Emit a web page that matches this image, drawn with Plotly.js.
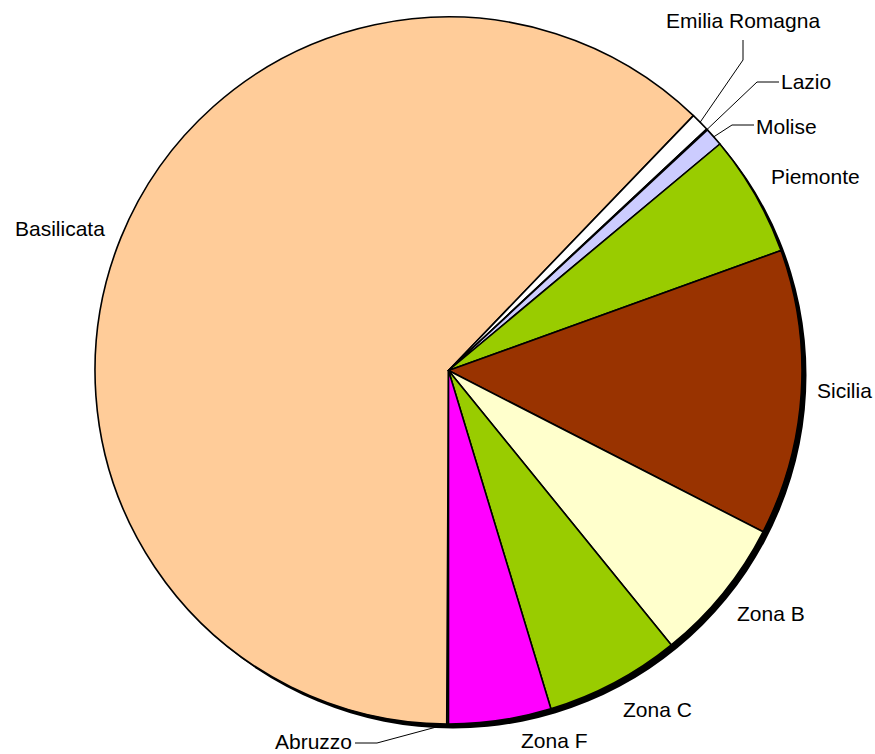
<!DOCTYPE html>
<html>
<head>
<meta charset="utf-8">
<script src="https://cdn.plot.ly/plotly-3.0.1.min.js"></script>
<style>html,body{margin:0;padding:0;background:#fff;}#chart{width:875px;height:754px;}</style>
</head>
<body>
<div id="chart"></div>
<script>
// ---- data ----
const regions = ["Abruzzo","Basilicata","Emilia Romagna","Lazio","Molise","Piemonte","Sicilia","Zona B","Zona C","Zona F"];
const shares = [0.08, 62.14, 0.85, 0.05, 0.85, 5.56, 13.06, 6.61, 6.18, 4.68];
const sliceColors = ["#9999FF","#FFCC99","#FFFFFF","#FFFFFF","#CCCCFF","#99CC00","#993300","#FFFFCC","#99CC00","#FF00FF"];

// ---- layout / style ----
const W = 875, H = 754, L = 95, T = 17, S = 707;
const startAngle = 180;           // first slice starts at 6 o'clock, clockwise
const labelRadius = 1.047;        // label anchor distance, in pie radii
const fontSpec = { family: "Liberation Sans, Arial, sans-serif", size: 21, color: "#000000" };
const shadowOffset = 4.5;

// labels dragged away from their slice, with leader lines (pixel positions of elbow and label anchor)
const leaderLabels = {
  "Emilia Romagna": { elbow: [[743, 60], [743, 40]], at: [743, 33], xa: "center", ya: "bottom" },
  "Lazio":          { elbow: [[757, 82], [779, 82]], at: [780, 82], xa: "left",   ya: "middle" },
  "Molise":         { elbow: [[732, 125], [754, 125]], at: [755, 126], xa: "left", ya: "middle" },
  "Abruzzo":        { elbow: [[377, 743], [355, 743]], at: [353, 741], xa: "right", ya: "middle" }
};
// small manual nudges of labels (pixels)
const labelNudge = { "Zona F": [52, -9], "Piemonte": [0, 3], "Sicilia": [-2, -4], "Zona B": [0, -3], "Basilicata": [0, -3] };

const cx = L + S / 2, cy = T + S / 2, r = S / 2;
const px2x = (px) => (px - L) / S;
const py2y = (py) => 1 - (py - T) / S;

const total = shares.reduce((a, b) => a + b, 0);
let cum = 0;
const annotations = [];
const shapes = [{
  type: "circle", xref: "paper", yref: "paper", layer: "below",
  x0: px2x(cx - r + shadowOffset), x1: px2x(cx + r + shadowOffset),
  y0: py2y(cy + r + shadowOffset), y1: py2y(cy - r + shadowOffset),
  fillcolor: "#000000", line: { width: 0 }
}];

regions.forEach((name, i) => {
  const mid = (startAngle + 360 * (cum + shares[i] / 2) / total) * Math.PI / 180;
  cum += shares[i];
  const s = Math.sin(mid), c = Math.cos(mid);
  const ll = leaderLabels[name];
  if (ll) {
    const ex = cx + r * s, ey = cy - r * c;
    let d = "M " + px2x(ex) + "," + py2y(ey);
    ll.elbow.forEach(p => { d += " L " + px2x(p[0]) + "," + py2y(p[1]); });
    shapes.push({ type: "path", xref: "paper", yref: "paper", path: d, line: { color: "#000000", width: 1 }, layer: "above" });
    annotations.push({
      xref: "paper", yref: "paper", x: px2x(ll.at[0]), y: py2y(ll.at[1]),
      xanchor: ll.xa, yanchor: ll.ya, text: name, showarrow: false, font: fontSpec, borderpad: 0
    });
  } else {
    const n = labelNudge[name] || [0, 0];
    const ax = cx + r * labelRadius * s + n[0];
    const ay = cy - r * labelRadius * c + n[1];
    const xa = s > 0.3 ? "left" : (s < -0.3 ? "right" : "center");
    const ya = c > 0.4 ? "bottom" : (c < -0.4 ? "top" : "middle");
    annotations.push({
      xref: "paper", yref: "paper", x: px2x(ax), y: py2y(ay),
      xanchor: xa, yanchor: ya, text: name, showarrow: false, font: fontSpec, borderpad: 0
    });
  }
});

const trace = {
  type: "pie",
  labels: regions,
  values: shares,
  sort: false,
  direction: "clockwise",
  rotation: startAngle,
  marker: { colors: sliceColors, line: { color: "#000000", width: 1.6 } },
  textinfo: "none",
  hoverinfo: "label+percent",
  showlegend: false
};

const layout = {
  width: W, height: H,
  margin: { l: L, r: W - L - S, t: T, b: H - T - S, pad: 0 },
  paper_bgcolor: "#ffffff",
  plot_bgcolor: "#ffffff",
  showlegend: false,
  shapes: shapes,
  annotations: annotations
};

Plotly.newPlot("chart", [trace], layout, { displayModeBar: false, staticPlot: true });
</script>
</body>
</html>
